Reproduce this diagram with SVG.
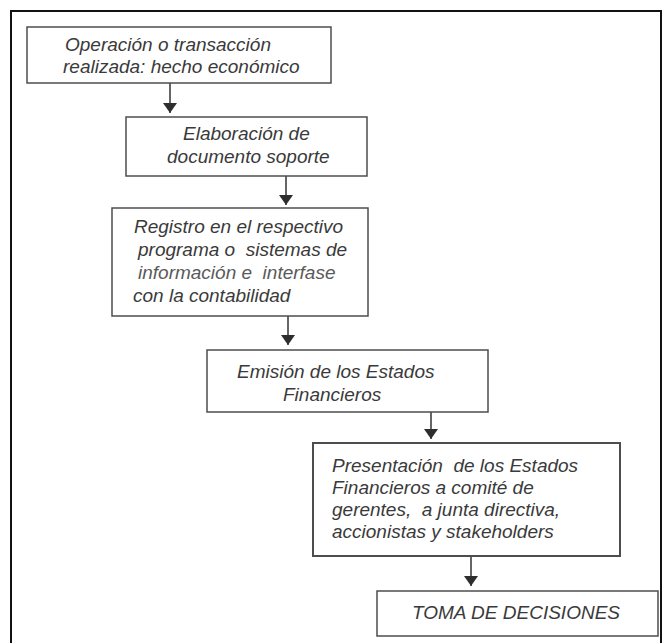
<svg xmlns="http://www.w3.org/2000/svg" width="663" height="643" viewBox="0 0 663 643">
<defs>
<style>
.box{fill:#fff;stroke:#4d4d4d;stroke-width:1.5}
.t{font-family:"Liberation Sans",Arial,sans-serif;font-style:italic;font-size:19px;fill:#3a3a3a}
.lt{fill:#5a5a5a}
.c{stroke:#333;stroke-width:1.5;fill:none}
</style>
<marker id="ah" viewBox="0 0 10 14" refX="10" refY="7" markerWidth="10" markerHeight="14" markerUnits="userSpaceOnUse" orient="auto">
<path d="M0,0 L10,7 L0,14 Z" fill="#2e2e2e"/>
</marker>
</defs>
<rect width="663" height="643" fill="#fff"/>
<rect x="11" y="11" width="650" height="640" fill="none" stroke="#111" stroke-width="2"/>
<g id="connectors">
<line class="c" x1="170" y1="83" x2="170" y2="113" marker-end="url(#ah)"/>
<line class="c" x1="286" y1="176" x2="286" y2="205" marker-end="url(#ah)"/>
<line class="c" x1="288" y1="316" x2="288" y2="345" marker-end="url(#ah)"/>
<line class="c" x1="431" y1="412" x2="431" y2="439" marker-end="url(#ah)"/>
<line class="c" x1="471" y1="556" x2="471" y2="586" marker-end="url(#ah)"/>
</g>
<g id="n1">
<rect class="box" x="27" y="27" width="304" height="56"/>
<text class="t" x="65" y="51">Operación o transacción</text>
<text class="t" x="63" y="73">realizada: hecho económico</text>
</g>
<g id="n2">
<rect class="box" x="126" y="117" width="241" height="59"/>
<text class="t" x="183" y="140">Elaboración de</text>
<text class="t" x="167" y="163">documento soporte</text>
</g>
<g id="n3">
<rect class="box" x="112" y="208" width="256" height="108"/>
<text class="t" x="134" y="233">Registro en el respectivo</text>
<text class="t" x="138" y="256" xml:space="preserve">programa o  sistemas de</text>
<text class="t lt" x="138" y="279" xml:space="preserve">información e  interfase</text>
<text class="t" x="133" y="302">con la contabilidad</text>
</g>
<g id="n4">
<rect class="box" x="207" y="350" width="281" height="62"/>
<text class="t" x="237" y="378">Emisión de los Estados</text>
<text class="t" x="283" y="401">Financieros</text>
</g>
<g id="n5">
<rect class="box" x="313" y="443" width="307" height="113" style="stroke-width:2"/>
<text class="t" x="332" y="472" xml:space="preserve">Presentación  de los Estados</text>
<text class="t" x="332" y="494">Financieros a comité de</text>
<text class="t" x="332" y="516" xml:space="preserve">gerentes,  a junta directiva,</text>
<text class="t" x="332" y="538">accionistas y stakeholders</text>
</g>
<g id="n6">
<rect class="box" x="377" y="591" width="281" height="45"/>
<text class="t" x="412" y="619">TOMA DE DECISIONES</text>
</g>
</svg>
